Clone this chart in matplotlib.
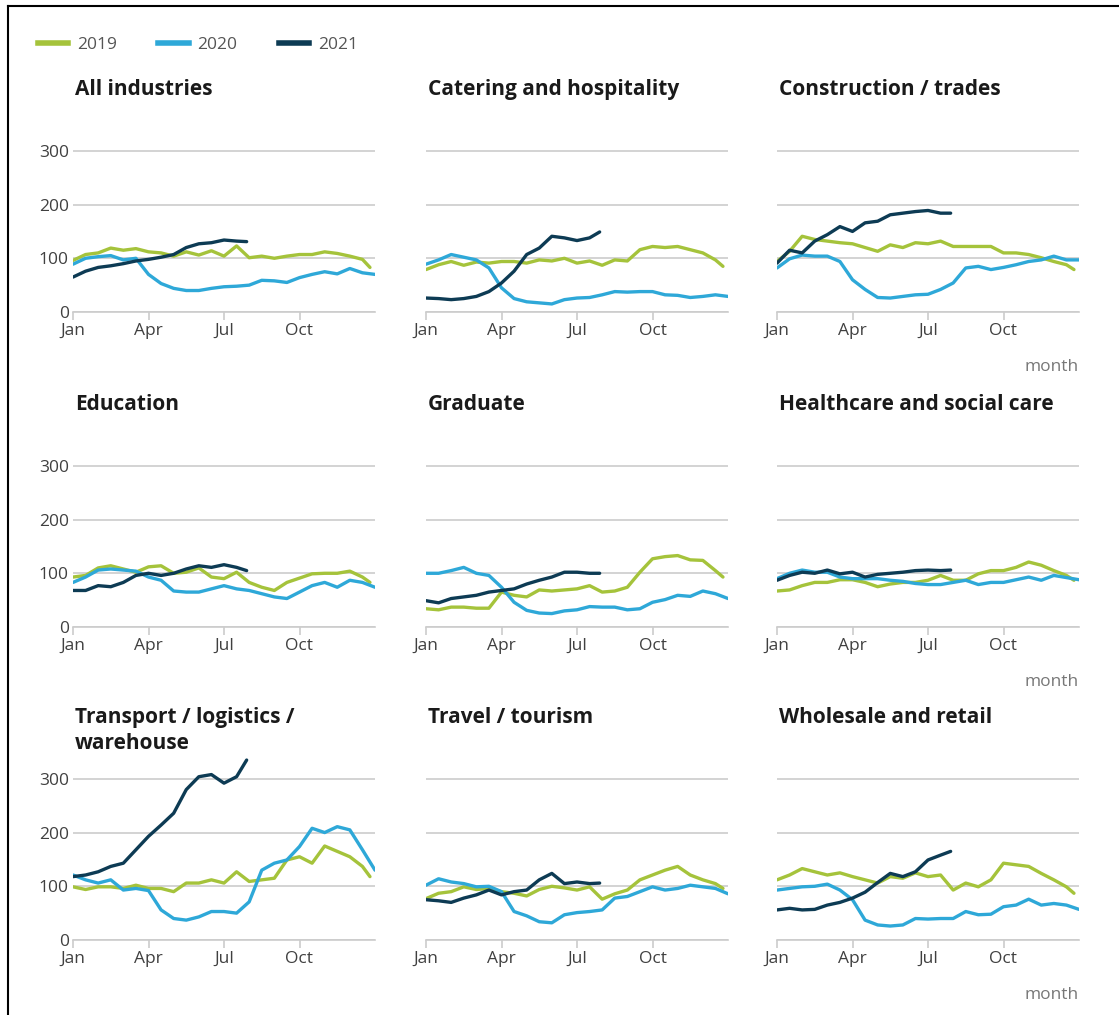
import matplotlib
matplotlib.use("Agg")
import matplotlib.pyplot as plt
from matplotlib.lines import Line2D

plt.rcParams['font.family'] = ['Open Sans', 'DejaVu Sans']

# x positions in months since 1 Jan
months_2019 = [0, 0.5, 1, 1.5, 2, 2.5, 3, 3.5, 4, 4.5, 5, 5.5, 6, 6.5, 7, 7.5,
               8, 8.5, 9, 9.5, 10, 10.5, 11, 11.5, 11.8]
months_2020 = [0, 0.5, 1, 1.5, 2, 2.5, 3, 3.5, 4, 4.5, 5, 5.5, 6, 6.5, 7, 7.5,
               8, 8.5, 9, 9.5, 10, 10.5, 11, 11.5, 12]
months_2021 = [0, 0.5, 1, 1.5, 2, 2.5, 3, 3.5, 4, 4.5, 5, 5.5, 6, 6.5, 6.9]

month_ticks = [0, 3, 6, 9]
month_labels = ["Jan", "Apr", "Jul", "Oct"]
years = ["2019", "2020", "2021"]

industries = [
    "All industries", "Catering and hospitality", "Construction / trades",
    "Education", "Graduate", "Healthcare and social care",
    "Transport / logistics /\nwarehouse", "Travel / tourism", "Wholesale and retail",
]

vals_2019 = [
    [96, 107, 110, 119, 115, 118, 112, 110, 104, 112, 106, 114, 104, 123, 101, 104,
     100, 104, 107, 107, 112, 109, 104, 98, 83],
    [79, 88, 94, 87, 93, 91, 94, 94, 91, 97, 95, 100, 91, 95, 87, 97,
     95, 116, 122, 120, 122, 116, 110, 97, 85],
    [94, 113, 141, 135, 132, 129, 127, 120, 113, 125, 120, 129, 127, 132, 122, 122,
     122, 122, 110, 110, 107, 101, 94, 88, 79],
    [93, 96, 110, 114, 108, 102, 112, 114, 100, 102, 110, 93, 90, 102, 83, 74,
     68, 83, 91, 99, 100, 100, 104, 93, 83],
    [34, 32, 37, 37, 35, 35, 65, 59, 56, 69, 67, 69, 71, 77, 65, 67,
     74, 102, 127, 131, 133, 125, 124, 105, 93],
    [67, 69, 77, 83, 83, 88, 88, 83, 75, 80, 83, 83, 87, 96, 87, 87,
     99, 105, 105, 111, 121, 115, 105, 96, 87],
    [99, 94, 99, 99, 96, 102, 96, 96, 90, 106, 106, 112, 106, 127, 109, 112,
     115, 149, 155, 143, 175, 165, 155, 137, 118],
    [77, 87, 90, 99, 94, 96, 90, 87, 82, 94, 100, 97, 93, 99, 76, 86,
     93, 112, 121, 130, 137, 121, 112, 105, 96],
    [112, 121, 133, 127, 121, 125, 118, 112, 106, 118, 115, 125, 118, 121, 93, 106,
     99, 112, 143, 140, 137, 124, 112, 99, 87],
]

vals_2020 = [
    [89, 100, 103, 105, 97, 100, 70, 53, 44, 40, 40, 44, 47, 48, 50, 59,
     58, 55, 64, 70, 75, 71, 81, 73, 70],
    [89, 97, 107, 102, 97, 82, 45, 25, 19, 17, 15, 23, 26, 27, 32, 38,
     37, 38, 38, 32, 31, 27, 29, 32, 29],
    [82, 99, 106, 104, 104, 94, 60, 42, 27, 26, 29, 32, 33, 42, 54, 82,
     85, 79, 83, 88, 94, 97, 104, 97, 97],
    [83, 93, 106, 108, 106, 104, 93, 87, 67, 65, 65, 71, 77, 71, 68, 62,
     56, 53, 65, 77, 83, 74, 87, 83, 74],
    [100, 100, 105, 111, 100, 96, 74, 46, 31, 26, 25, 30, 32, 38, 37, 37,
     32, 34, 46, 51, 59, 57, 67, 62, 53],
    [90, 100, 106, 102, 102, 93, 90, 90, 90, 87, 85, 81, 79, 79, 83, 87,
     79, 83, 83, 88, 93, 87, 96, 92, 88],
    [121, 112, 106, 112, 93, 96, 92, 56, 40, 37, 43, 53, 53, 50, 71, 130,
     143, 149, 174, 208, 200, 211, 205, 168, 130],
    [102, 114, 108, 105, 99, 100, 90, 53, 45, 34, 32, 47, 51, 53, 56, 78,
     81, 90, 99, 93, 96, 102, 99, 96, 86],
    [93, 96, 99, 100, 104, 93, 75, 37, 28, 26, 28, 40, 39, 40, 40, 53,
     47, 48, 62, 65, 76, 65, 68, 65, 57],
]

vals_2021 = [
    [65, 76, 83, 86, 90, 95, 98, 102, 107, 120, 127, 129, 134, 132, 131],
    [26, 25, 23, 25, 29, 38, 54, 76, 107, 119, 141, 138, 133, 138, 149],
    [91, 115, 110, 132, 144, 159, 150, 166, 169, 181, 184, 187, 189, 184, 184],
    [68, 68, 77, 75, 83, 96, 100, 96, 100, 108, 114, 111, 116, 111, 105],
    [49, 45, 53, 56, 59, 65, 68, 71, 80, 87, 93, 102, 102, 100, 100],
    [87, 96, 102, 100, 106, 99, 102, 93, 98, 100, 102, 105, 106, 105, 106],
    [118, 121, 127, 137, 143, 168, 193, 214, 236, 280, 304, 308, 292, 304, 335],
    [75, 73, 70, 78, 84, 93, 84, 90, 93, 112, 124, 105, 108, 105, 106],
    [56, 59, 56, 57, 65, 70, 78, 89, 107, 124, 118, 127, 149, 158, 165],
]

colors = {"2019": "#a5c33b", "2020": "#2ea8d8", "2021": "#0d3b54"}
grid_color = "#cccccc"
tick_color = "#404040"

W, H = 1119, 1015
fig = plt.figure(figsize=(W / 100, H / 100), dpi=100)

col_left = [73, 426, 777]
row_zero = [312, 627, 940]
ax_w = 302
ax_h = 188
y_top = 350

for i, name in enumerate(industries):
    r, c = divmod(i, 3)
    left = col_left[c]
    bottom = row_zero[r]
    ax = fig.add_axes([left / W, 1 - bottom / H, ax_w / W, ax_h / H])
    ax.plot(months_2019, vals_2019[i], color=colors["2019"], lw=2.4, solid_capstyle='round', zorder=3)
    ax.plot(months_2020, vals_2020[i], color=colors["2020"], lw=2.4, solid_capstyle='round', zorder=3)
    ax.plot(months_2021, vals_2021[i], color=colors["2021"], lw=2.4, solid_capstyle='round', zorder=4)
    ax.set_xlim(0, 12)
    ax.set_ylim(0, y_top)
    ax.set_yticks([0, 100, 200, 300])
    ax.set_xticks(month_ticks)
    ax.set_xticklabels(month_labels)
    ax.grid(axis='y', color=grid_color, lw=1.2)
    ax.set_axisbelow(True)
    for side in ['top', 'right', 'left']:
        ax.spines[side].set_visible(False)
    ax.spines['bottom'].set_color(grid_color)
    ax.spines['bottom'].set_linewidth(1.2)
    ax.tick_params(axis='x', colors=grid_color, labelcolor=tick_color, length=6,
                   width=1.2, labelsize=12.5, pad=2)
    if c == 0:
        ax.tick_params(axis='y', length=0, labelsize=12.5, labelcolor=tick_color, pad=3)
    else:
        ax.tick_params(axis='y', length=0, labelleft=False)
    fig.text((left + 2) / W, 1 - (bottom - 233) / H, name, fontsize=15,
             fontweight='bold', color='#1a1a1a', va='top', ha='left', linespacing=1.3)
    if c == 2:
        fig.text((left + ax_w) / W, 1 - (bottom + 55) / H, "month", fontsize=12.5,
                 color='#777777', ha='right', va='center')

handles = [Line2D([], [], color=colors[y], lw=4) for y in years]
fig.legend(handles, years, loc='center left', bbox_to_anchor=(22 / W, 1 - 45 / H),
           ncol=3, frameon=False, fontsize=12.5, handlelength=1.75, handletextpad=0.5,
           columnspacing=2.4, labelcolor='#555555')

# frame lines along the top and left edge
fig.add_artist(Line2D([8 / W, 1], [1 - 6 / H, 1 - 6 / H], color='black', lw=1.5))
fig.add_artist(Line2D([8 / W, 8 / W], [0, 1 - 6 / H], color='black', lw=1.5))

fig.savefig("out.png", dpi=100)
